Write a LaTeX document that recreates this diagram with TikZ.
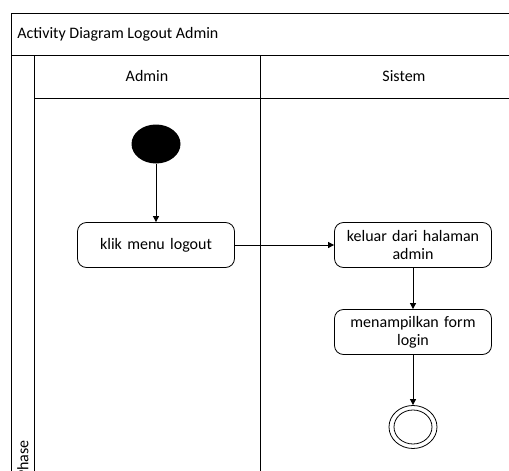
\documentclass[tikz,border=0pt]{standalone}
\usepackage{fontspec}
\setmainfont{Carlito}
\usetikzlibrary{arrows.meta}
\usetikzlibrary{shapes.geometric}
\usetikzlibrary{positioning}
\tikzset{
  aksi/.style={draw, rounded corners=9pt, minimum width=157pt, minimum height=45pt, text width=150pt, align=center, inner sep=2pt, font=\fontsize{16}{18}\selectfont},
  alur/.style={-{Triangle[length=6pt,width=6pt]}},
  lajur/.style={font=\fontsize{16}{18}\selectfont, inner sep=0pt},
}

\begin{document}
\begin{tikzpicture}[x=1pt,y=-1pt, line width=0.8pt]
\useasboundingbox (0,0) rectangle (509,471);
% kolam dan lajur
\draw (11,475) -- (11,13) -- (515,13);
\draw (11,55) -- (515,55);
\draw (34,55) -- (34,475);
\draw (34,98) -- (515,98);
\draw (260,55) -- (260,475);
\node[lajur, anchor=west] (judul) at (17,34) {Activity Diagram Logout Admin};
\node[lajur] (admin) at (147,76) {Admin};
\node[lajur] (sistem) at (404,76) {Sistem};
\node[lajur, rotate=90, anchor=east] (phase) at (23,440) {Phase};
% aktivitas
\node[fill=black, ellipse, minimum width=49pt, minimum height=39pt, inner sep=0pt] (mulai) at (156,144) {};
\node[aksi] (klik) at (156,245) {klik menu logout};
\node[aksi] (keluar) at (413,245) {keluar dari halaman\\admin};
\node[aksi] (tampil) at (413,332) {menampilkan form\\login};
\node[draw, ellipse, minimum width=48pt, minimum height=43pt, inner sep=0pt] (selesai) at (413,427) {};
\node[draw, ellipse, minimum width=38pt, minimum height=34pt, inner sep=0pt] at (selesai) {};
\draw[alur] (mulai) -- (klik);
\draw[alur] (klik) -- (keluar);
\draw[alur] (keluar) -- (tampil);
\draw[alur] (tampil) -- (selesai);
\end{tikzpicture}
\end{document}
